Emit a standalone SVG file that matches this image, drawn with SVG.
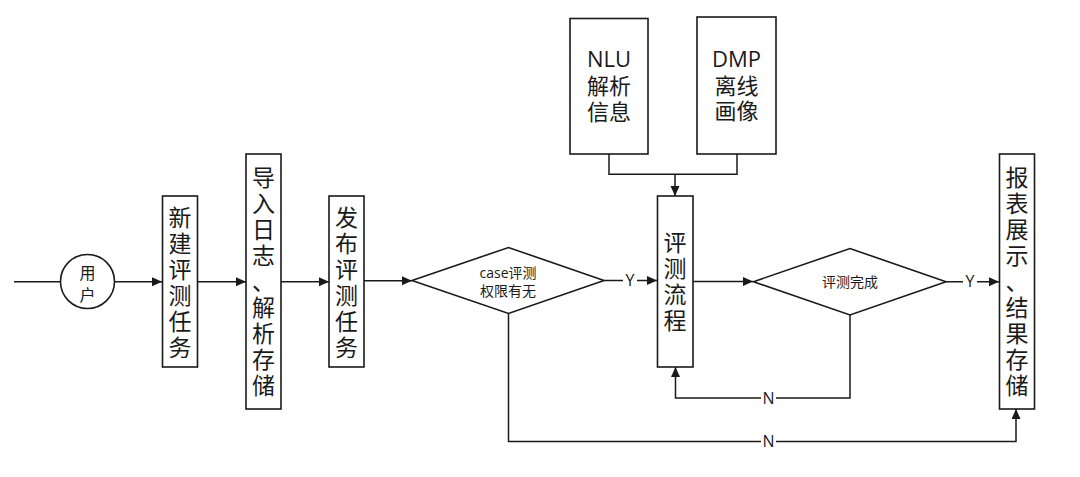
<svg xmlns="http://www.w3.org/2000/svg" width="1080" height="477" viewBox="0 0 1080 477">
<defs>
<marker id="arr" markerUnits="userSpaceOnUse" markerWidth="11" markerHeight="10" refX="10" refY="4.5" orient="auto">
<path d="M0,0 L10,4.5 L0,9 z" fill="#1a1a1a"/>
</marker>
<style>
.shape{fill:#fff;stroke:#1a1a1a;stroke-width:1.6}
.line{fill:none;stroke:#1a1a1a;stroke-width:1.5}
.t{font-family:"Open Sans","Noto Sans CJK SC",sans-serif;fill:#1a1a1a;text-anchor:middle}
.v{font-size:23px}
.big{font-size:22px}
.sm{font-size:14px}
.lbl{font-size:16px}
.bg{fill:#fff;stroke:none}
</style>
</defs>
<rect width="1080" height="477" fill="#fff"/>

<g id="connectors">
<path class="line" d="M14,281.7 H60.5"/>
<path class="line" d="M114.5,281.7 H162" marker-end="url(#arr)"/>
<path class="line" d="M197.5,281.7 H246" marker-end="url(#arr)"/>
<path class="line" d="M281,281.7 H329" marker-end="url(#arr)"/>
<path class="line" d="M364,280.7 H412" marker-end="url(#arr)"/>
<path class="line" d="M604,280.5 H657" marker-end="url(#arr)"/>
<path class="line" d="M609,154 V174.3 H737 V154"/>
<path class="line" d="M675,174.3 V196" marker-end="url(#arr)"/>
<path class="line" d="M693,281.5 H753" marker-end="url(#arr)"/>
<path class="line" d="M946,281.7 H999" marker-end="url(#arr)"/>
<path class="line" d="M850,315 V398 H675.5 V367" marker-end="url(#arr)"/>
<path class="line" d="M508.5,313.5 V441.5 H1016 V409" marker-end="url(#arr)"/>
<rect class="bg" x="623" y="272" width="14" height="17"/>
<text class="t lbl" x="630" y="286">Y</text>
<rect class="bg" x="963" y="273" width="14" height="17"/>
<text class="t lbl" x="970" y="287">Y</text>
<rect class="bg" x="761" y="390" width="15" height="17"/>
<text class="t lbl" x="768.5" y="404">N</text>
<rect class="bg" x="761" y="433" width="15" height="17"/>
<text class="t lbl" x="768.5" y="447">N</text>
</g>

<g id="user">
<circle class="shape" cx="87.5" cy="281.5" r="27"/>
<text class="t" style="font-size:16px" x="87.5" y="279">用</text>
<text class="t" style="font-size:16px" x="87.5" y="301">户</text>
</g>

<g id="new-task">
<rect class="shape" x="162.5" y="196" width="35" height="171"/>
<text class="t v" x="180" y="225.5"><tspan x="180">新</tspan><tspan x="180" dy="26">建</tspan><tspan x="180" dy="26">评</tspan><tspan x="180" dy="26">测</tspan><tspan x="180" dy="26">任</tspan><tspan x="180" dy="26">务</tspan></text>
</g>

<g id="import-log">
<rect class="shape" x="246" y="154" width="35" height="255"/>
<text class="t v" x="263.5" y="185.5"><tspan x="263.5">导</tspan><tspan x="263.5" dy="26">入</tspan><tspan x="263.5" dy="26">日</tspan><tspan x="263.5" dy="26">志</tspan><tspan x="263.5" dy="26">、</tspan><tspan x="263.5" dy="26">解</tspan><tspan x="263.5" dy="26">析</tspan><tspan x="263.5" dy="26">存</tspan><tspan x="263.5" dy="26">储</tspan></text>
</g>

<g id="publish-task">
<rect class="shape" x="329" y="196" width="35" height="171"/>
<text class="t v" x="346.5" y="225.5"><tspan x="346.5">发</tspan><tspan x="346.5" dy="26">布</tspan><tspan x="346.5" dy="26">评</tspan><tspan x="346.5" dy="26">测</tspan><tspan x="346.5" dy="26">任</tspan><tspan x="346.5" dy="26">务</tspan></text>
</g>

<g id="case-permission">
<polygon class="shape" points="412,280.5 508.5,247.5 604,280.5 508.5,313.5"/>
<text class="t sm" x="508" y="278">case评测</text>
<text class="t sm" x="508" y="295.5">权限有无</text>
</g>

<g id="nlu">
<rect class="shape" x="570" y="18.5" width="78" height="135.5"/>
<text class="t big" x="609" y="67">NLU</text>
<text class="t big" x="609" y="94">解析</text>
<text class="t big" x="609" y="120">信息</text>
</g>

<g id="dmp">
<rect class="shape" x="697" y="17" width="79" height="137"/>
<text class="t big" x="736.5" y="67">DMP</text>
<text class="t big" x="736.5" y="93.5">离线</text>
<text class="t big" x="736.5" y="119">画像</text>
</g>

<g id="eval-flow">
<rect class="shape" x="657.5" y="196" width="35.5" height="171"/>
<text class="t v" x="675" y="250.5"><tspan x="675">评</tspan><tspan x="675" dy="26">测</tspan><tspan x="675" dy="26">流</tspan><tspan x="675" dy="26">程</tspan></text>
</g>

<g id="eval-done">
<polygon class="shape" points="753.5,281.7 850,248.5 946,281.7 850,315"/>
<text class="t sm" x="850" y="287">评测完成</text>
</g>

<g id="report">
<rect class="shape" x="999.5" y="154" width="35" height="255"/>
<text class="t v" x="1017" y="185.5"><tspan x="1017">报</tspan><tspan x="1017" dy="26">表</tspan><tspan x="1017" dy="26">展</tspan><tspan x="1017" dy="26">示</tspan><tspan x="1017" dy="26">、</tspan><tspan x="1017" dy="26">结</tspan><tspan x="1017" dy="26">果</tspan><tspan x="1017" dy="26">存</tspan><tspan x="1017" dy="26">储</tspan></text>
</g>
</svg>
